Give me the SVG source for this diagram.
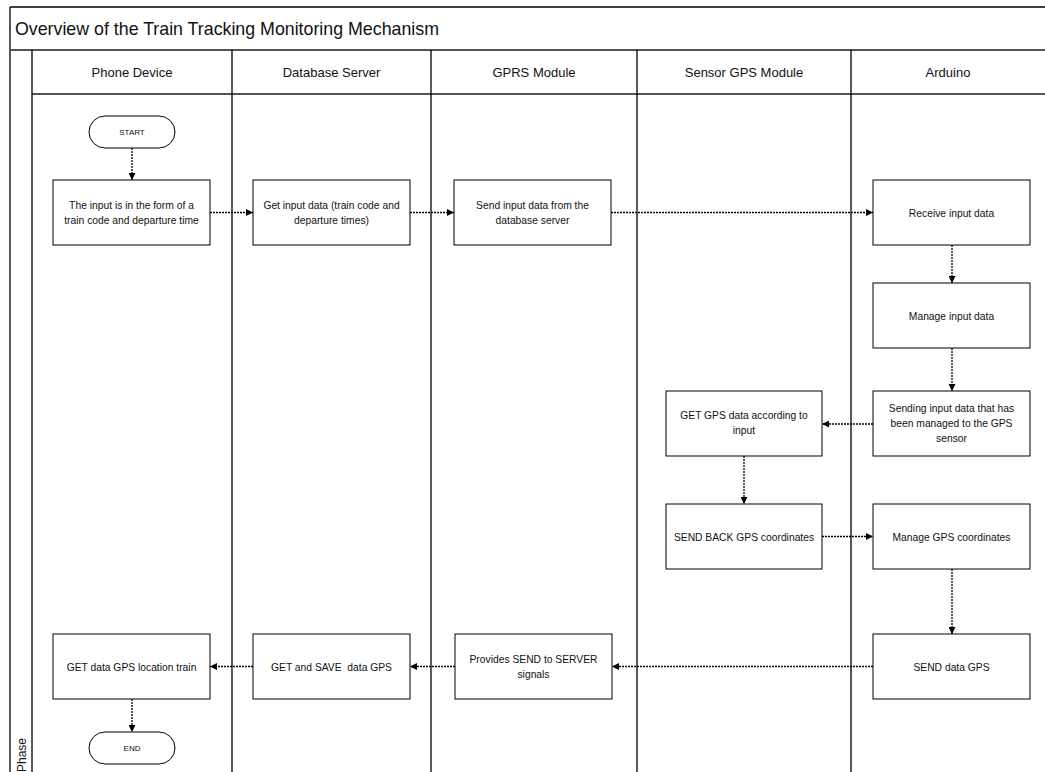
<svg xmlns="http://www.w3.org/2000/svg" width="1045" height="772" viewBox="0 0 1045 772">
<style>
.frame{stroke:#000;stroke-width:1.3;fill:none}
.sep{stroke:#555;stroke-width:1.8;fill:none}
.box{fill:#fff;stroke:#000;stroke-width:1}
.t{font-family:"Liberation Sans",Arial,sans-serif;font-size:10.3px;fill:#111;text-anchor:middle}
.ts{font-family:"Liberation Sans",Arial,sans-serif;font-size:8px;fill:#111;text-anchor:middle}
.h{font-family:"Liberation Sans",Arial,sans-serif;font-size:13px;fill:#111;text-anchor:middle}
.ph{font-family:"Liberation Sans",Arial,sans-serif;font-size:12px;fill:#111;text-anchor:middle}
.title{font-family:"Liberation Sans",Arial,sans-serif;font-size:17.8px;fill:#111}
.c{stroke:#000;stroke-width:1.3;stroke-dasharray:2 1;fill:none;marker-end:url(#ah)}
</style>
<defs>
<marker id="ah" viewBox="0 0 10 10" refX="10" refY="5" markerWidth="7" markerHeight="7" markerUnits="userSpaceOnUse" orient="auto">
<path d="M0,0 L10,5 L0,10 z" fill="#000"/>
</marker>
</defs>
<rect width="1045" height="772" fill="#fff"/>
<g id="pool">
<line class="frame" x1="10" y1="7" x2="1045" y2="7"/>
<line class="frame" x1="10" y1="7" x2="10" y2="772"/>
<line class="sep" x1="10" y1="50" x2="1045" y2="50"/>
<line class="sep" x1="32" y1="94" x2="1045" y2="94"/>
<line class="frame" x1="32" y1="50" x2="32" y2="772"/>
<line class="frame" x1="232" y1="50" x2="232" y2="772"/>
<line class="frame" x1="431" y1="50" x2="431" y2="772"/>
<line class="frame" x1="637" y1="50" x2="637" y2="772"/>
<line class="frame" x1="851" y1="50" x2="851" y2="772"/>
<text class="title" x="15" y="35">Overview of the Train Tracking Monitoring Mechanism</text>
<text class="h" x="132" y="77">Phone Device</text>
<text class="h" x="331.5" y="77">Database Server</text>
<text class="h" x="534" y="77">GPRS Module</text>
<text class="h" x="744" y="77">Sensor GPS Module</text>
<text class="h" x="948" y="77">Arduino</text>
<text class="ph" transform="translate(26,755) rotate(-90)">Phase</text>
</g>
<g id="start"><rect class="box" x="89" y="116" width="86" height="32" rx="16"/><text class="ts" x="132" y="135">START</text></g>
<g id="n1"><rect class="box" x="53" y="180" width="157" height="65"/><text class="t" x="131.5" y="209">The input is in the form of a</text><text class="t" x="131.5" y="223.5">train code and departure time</text></g>
<g id="n2"><rect class="box" x="253" y="180" width="157" height="65"/><text class="t" x="331.5" y="209">Get input data (train code and</text><text class="t" x="331.5" y="223.5">departure times)</text></g>
<g id="n3"><rect class="box" x="454" y="180" width="157" height="65"/><text class="t" x="532.5" y="209">Send input data from the</text><text class="t" x="532.5" y="223.5">database server</text></g>
<g id="n4"><rect class="box" x="873" y="180" width="157" height="65"/><text class="t" x="951.5" y="216.5">Receive input data</text></g>
<g id="n5"><rect class="box" x="873" y="283" width="157" height="65"/><text class="t" x="951.5" y="319.5">Manage input data</text></g>
<g id="n6"><rect class="box" x="873" y="391" width="157" height="65"/><text class="t" x="951.5" y="411.5">Sending input data that has</text><text class="t" x="951.5" y="426.5">been managed to the GPS</text><text class="t" x="951.5" y="441.5">sensor</text></g>
<g id="n7"><rect class="box" x="666" y="391" width="156" height="65"/><text class="t" x="744" y="419">GET GPS data according to</text><text class="t" x="744" y="434">input</text></g>
<g id="n8"><rect class="box" x="666" y="504" width="156" height="65"/><text class="t" x="744" y="540.5">SEND BACK GPS coordinates</text></g>
<g id="n9"><rect class="box" x="873" y="504" width="157" height="65"/><text class="t" x="951.5" y="540.5">Manage GPS coordinates</text></g>
<g id="n10"><rect class="box" x="873" y="634" width="157" height="65"/><text class="t" x="951.5" y="670.5">SEND data GPS</text></g>
<g id="n11"><rect class="box" x="455" y="634" width="157" height="65"/><text class="t" x="533.5" y="663">Provides SEND to SERVER</text><text class="t" x="533.5" y="677.5">signals</text></g>
<g id="n12"><rect class="box" x="253" y="634" width="157" height="65"/><text class="t" x="331.5" y="670.5" xml:space="preserve">GET and SAVE  data GPS</text></g>
<g id="n13"><rect class="box" x="53" y="634" width="157" height="65"/><text class="t" x="131.5" y="670.5">GET data GPS location train</text></g>
<g id="end"><rect class="box" x="89" y="732" width="86" height="32" rx="16"/><text class="ts" x="132" y="751">END</text></g>
<g id="connectors">
<line class="c" x1="132" y1="148" x2="132" y2="180"/>
<line class="c" x1="210" y1="212.5" x2="253" y2="212.5"/>
<line class="c" x1="410" y1="212.5" x2="454" y2="212.5"/>
<line class="c" x1="611" y1="212.5" x2="873" y2="212.5"/>
<line class="c" x1="952" y1="245" x2="952" y2="283"/>
<line class="c" x1="952" y1="348" x2="952" y2="391"/>
<line class="c" x1="873" y1="424" x2="822" y2="424"/>
<line class="c" x1="744" y1="456" x2="744" y2="504"/>
<line class="c" x1="822" y1="536.5" x2="873" y2="536.5"/>
<line class="c" x1="952" y1="569" x2="952" y2="634"/>
<line class="c" x1="873" y1="666.5" x2="612" y2="666.5"/>
<line class="c" x1="455" y1="666.5" x2="410" y2="666.5"/>
<line class="c" x1="253" y1="666.5" x2="210" y2="666.5"/>
<line class="c" x1="132" y1="699" x2="132" y2="732"/>
</g>
</svg>
